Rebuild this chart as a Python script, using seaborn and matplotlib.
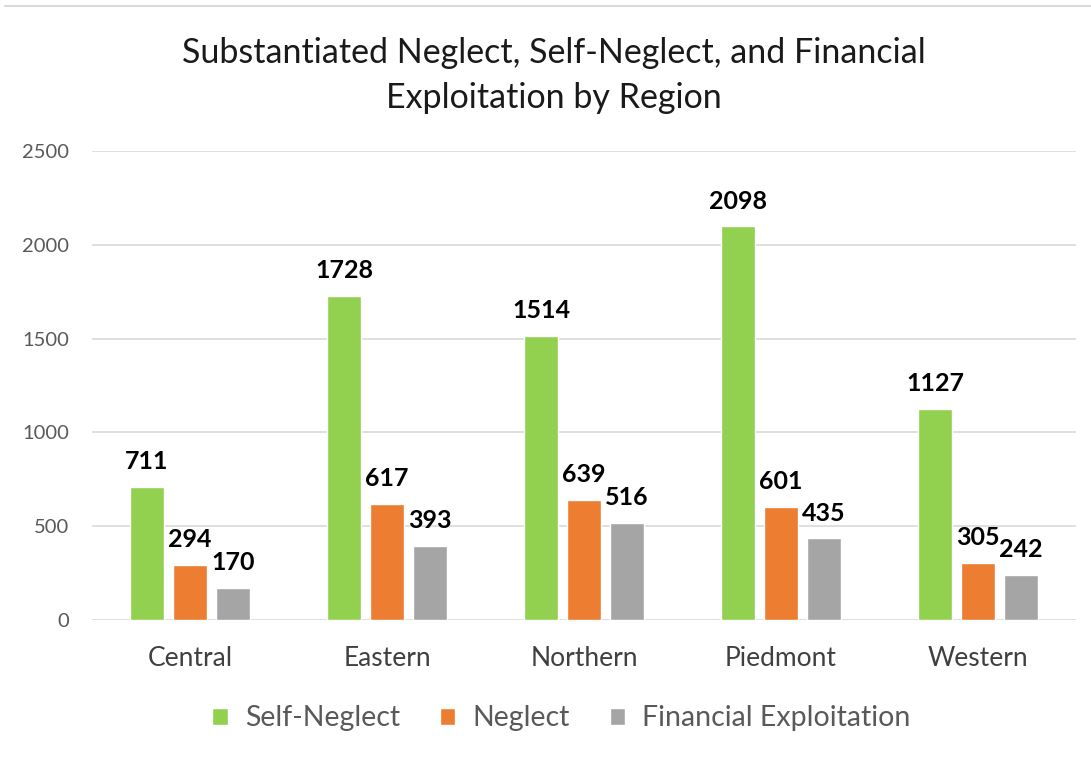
import numpy as np
import pandas as pd
import matplotlib.pyplot as plt
import seaborn as sns
from matplotlib.lines import Line2D

regions = ["Central", "Eastern", "Northern", "Piedmont", "Western"]
series = ["Self-Neglect", "Neglect", "Financial Exploitation"]
self_neglect = [711, 1728, 1514, 2098, 1127]
neglect = [294, 617, 639, 601, 305]
financial = [170, 393, 516, 435, 242]
yticks = [0, 500, 1000, 1500, 2000, 2500]

colors = ["#92D050", "#ED7D31", "#A5A5A5"]

df = pd.DataFrame({
    "Region": regions * 3,
    "Type": [s for s in series for _ in regions],
    "Count": self_neglect + neglect + financial,
})

sns.set_style("white")
plt.rcParams["font.family"] = ["Lato", "DejaVu Sans"]

fig = plt.figure(figsize=(10.91, 7.6), dpi=100)
ax = fig.add_axes([0.0839, 0.1842, 0.9028, 0.6171])

sns.barplot(data=df, x="Region", y="Count", hue="Type", palette=colors,
            width=0.655, gap=0.2, ax=ax, legend=True, saturation=1)

for c in ax.containers:
    ax.bar_label(c, padding=10, fontsize=18, fontweight="bold", color="#000000")

ax.set_ylim(0, 2500)
ax.set_xlim(-0.5, 4.5)
ax.set_yticks(yticks)
ax.set_yticklabels([str(t) for t in yticks], fontsize=14.5, color="#595959")
ax.tick_params(axis="y", length=0, pad=16)
ax.tick_params(axis="x", length=0, labelsize=19, labelcolor="#404040", pad=19)
ax.yaxis.grid(True, color="#D9D9D9", linewidth=1.2)
ax.set_axisbelow(True)
for s in ["top", "right", "left", "bottom"]:
    ax.spines[s].set_visible(False)
ax.set_xlabel("")
ax.set_ylabel("")

fig.suptitle("Substantiated Neglect, Self-Neglect, and Financial\nExploitation by Region",
             x=0.508, y=0.901, va="center", fontsize=24.5, color="#1a1a1a",
             linespacing=1.5)

handles, labels = ax.get_legend_handles_labels()
ax.legend(handles, labels, loc="center", bbox_to_anchor=(0.477, -0.21),
          ncol=3, frameon=False, fontsize=20.5, labelcolor="#595959",
          handlelength=0.55, handleheight=0.55, handletextpad=0.6, columnspacing=1.4)

fig.add_artist(Line2D([0.005, 1.0], [0.992, 0.992], color="#D9D9D9", linewidth=1.5,
                      transform=fig.transFigure))

fig.savefig("out.png", dpi=100)
